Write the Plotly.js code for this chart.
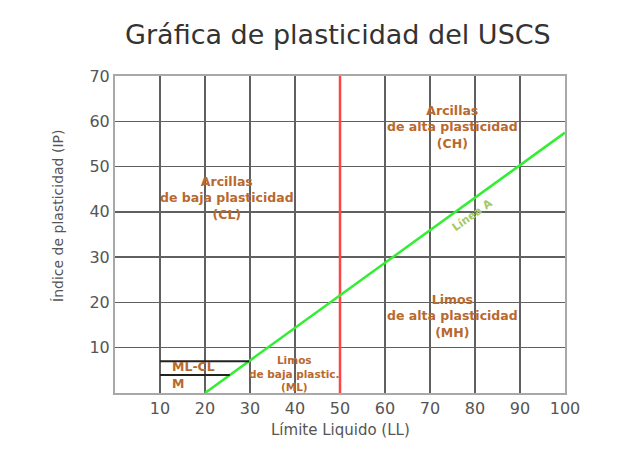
<!DOCTYPE html>
<html>
<head>
<meta charset="utf-8">
<script src="https://cdn.plot.ly/plotly-3.0.1.min.js"></script>
<style>
  html, body { margin: 0; padding: 0; background: white; }
  #chart { width: 640px; height: 453px; }
</style>
</head>
<body>
<div id="chart"></div>
<script>
// Línea A
const lineA_x = [20, 100]
const lineA_y = [0, 57.5]

// Límite LL = 50
const lineB_x = [50, 50]
const lineB_y = [0, 70]

// bandas ML-CL
const mlcl_top_x = [10, 29.8]
const mlcl_top_y = [7, 7]
const mlcl_bot_x = [10, 25.5]
const mlcl_bot_y = [4, 4]

// zonas
const zone_text = [
	"Arcillas<br>de baja plasticidad<br>(CL)",
	"Arcillas<br>de alta plasticidad<br>(CH)",
	"Limos<br>de alta plasticidad<br>(MH)",
	"ML-CL",
	"M"
]
const zone_x = [24.9, 75, 75, 17.5, 14]
const zone_y = [43, 58.8, 17, 5.8, 2.1]

const ml_text = "Limos<br>de baja plastic.<br>(ML)"
const ml_x = 39.8
const ml_y = 4.4

const lineA_label = "Línea A"
const lineA_label_x = 79.3
const lineA_label_y = 39.3

const x_ticks = [10, 20, 30, 40, 50, 60, 70, 80, 90, 100]
const y_ticks = [10, 20, 30, 40, 50, 60, 70]

const brown = "#b8692e"
const font = "DejaVu Sans, sans-serif"

var data = [
	{ x: lineB_x, y: lineB_y, type: "scatter", mode: "lines", line: { color: "#ff4545", width: 2.5 }, hoverinfo: "skip" },
	{ x: lineA_x, y: lineA_y, type: "scatter", mode: "lines", line: { color: "#33ee33", width: 2.5 }, hoverinfo: "skip" },
	{ x: mlcl_top_x, y: mlcl_top_y, type: "scatter", mode: "lines", line: { color: "#222222", width: 2 }, hoverinfo: "skip" },
	{ x: mlcl_bot_x, y: mlcl_bot_y, type: "scatter", mode: "lines", line: { color: "#222222", width: 2 }, hoverinfo: "skip" }
]

var annotations = zone_text.map((t, i) => ({
	x: zone_x[i],
	y: zone_y[i],
	text: "<b>" + t + "</b>",
	showarrow: false,
	font: { family: font, size: 12.5, color: brown },
	align: "center"
}))

annotations.push({
	x: ml_x, y: ml_y, text: "<b>" + ml_text + "</b>", showarrow: false,
	font: { family: font, size: 10.5, color: brown }, align: "center"
})

annotations.push({
	x: lineA_label_x, y: lineA_label_y, text: "<b>" + lineA_label + "</b>", showarrow: false,
	textangle: -35.5, font: { family: font, size: 11, color: "#a3c865" }
})

// axis titles
annotations.push({
	xref: "paper", yref: "paper", x: 0.5, y: -0.117, xanchor: "center", yanchor: "middle",
	text: "Límite Liquido (LL)", showarrow: false,
	font: { family: font, size: 15, color: "#555" }
})
annotations.push({
	xref: "paper", yref: "paper", x: -0.127, y: 0.558, xanchor: "center", yanchor: "middle",
	text: "Índice de plasticidad (IP)", showarrow: false, textangle: -90,
	font: { family: font, size: 14, color: "#555" }
})

var layout = {
	width: 640,
	height: 453,
	margin: { l: 115, r: 75, t: 76, b: 60, pad: 0 },
	paper_bgcolor: "white",
	plot_bgcolor: "white",
	showlegend: false,
	font: { family: font, color: "#444" },
	title: {
		text: "Gráfica de plasticidad del USCS",
		font: { family: font, size: 27, color: "#333" },
		x: 0.528, xanchor: "center", y: 0.923, yanchor: "middle"
	},
	xaxis: {
		range: [0, 100],
		tickvals: x_ticks,
		ticktext: x_ticks.map(String),
		ticks: "",
		tickfont: { size: 16, color: "#555" },
		showgrid: true,
		gridcolor: "#606060",
		gridwidth: 1.5,
		zeroline: false,
		showline: true,
		linecolor: "#a8a8a8",
		linewidth: 2,
		mirror: true
	},
	yaxis: {
		range: [0, 70],
		tickvals: y_ticks,
		ticktext: y_ticks.map(String),
		ticks: "",
		tickfont: { size: 16, color: "#555" },
		showgrid: true,
		gridcolor: "#606060",
		gridwidth: 1.5,
		zeroline: false,
		showline: true,
		linecolor: "#a8a8a8",
		linewidth: 2,
		mirror: true
	},
	annotations: annotations
}

var config = {
	displayModeBar: false,
	staticPlot: true
}

Plotly.newPlot("chart", data, layout, config)
</script>
</body>
</html>
